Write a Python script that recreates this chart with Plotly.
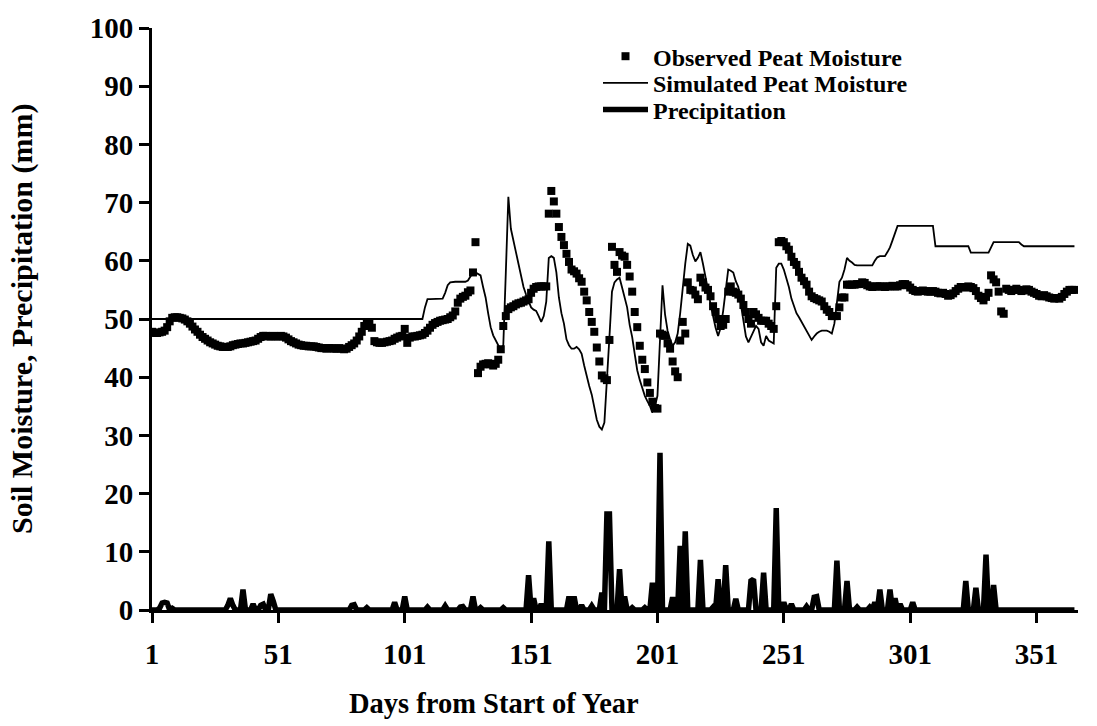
import plotly.graph_objects as go

# Day of year for the daily series
days = list(range(1, 367))

# Observed peat moisture (mm), one value per day
observed = [
    47.8, 47.6, 47.6, 47.7, 47.8, 48.0, 48.6, 49.6, 50.2, 50.3,
    50.3, 50.2, 50.1, 49.9, 49.6, 49.2, 48.7, 48.2, 47.8, 47.3,
    46.9, 46.6, 46.3, 46.0, 45.8, 45.6, 45.4, 45.3, 45.2, 45.2,
    45.2, 45.3, 45.5, 45.6, 45.7, 45.8, 45.8, 45.9, 46.0, 46.1,
    46.2, 46.3, 46.6, 46.9, 47.1, 47.1, 47.0, 47.0, 47.1, 47.0,
    47.0, 47.1, 47.0, 46.8, 46.5, 46.2, 46.0, 45.8, 45.6, 45.5,
    45.4, 45.4, 45.3, 45.3, 45.3, 45.2, 45.1, 45.0, 45.0, 44.9,
    45.0, 45.0, 44.9, 44.9, 45.0, 44.9, 44.8, 44.9, 45.2, 45.5,
    45.8, 46.3, 47.0, 47.8, 48.8, 49.3, 49.2, 48.5, 46.2, 46.0,
    45.9, 45.9, 46.0, 46.1, 46.2, 46.3, 46.6, 46.8, 47.0, 47.1,
    48.3, 45.9, 46.8, 47.0, 47.0, 47.1, 47.2, 47.3, 47.6, 48.0,
    48.5, 49.0, 49.3, 49.5, 49.7, 49.8, 49.9, 50.0, 50.3, 50.6,
    51.3, 52.8, 53.5, 53.8, 54.0, 54.6, 54.9, 58.0, 63.2, 40.7,
    41.8, 42.2, 42.3, 42.4, 42.2, 42.0, 42.3, 43.0, 44.8, 48.8,
    50.5, 51.7, 52.0, 52.2, 52.5, 52.7, 52.8, 53.0, 53.2, 53.4,
    54.5, 55.2, 55.5, 55.6, 55.6, 55.6, 55.6, 68.1, 72.0, 70.2,
    68.1, 65.8, 64.1, 62.7, 61.2, 59.8, 58.5, 58.2, 57.8, 57.0,
    56.4, 54.7, 53.2, 51.2, 49.5, 47.8, 45.1, 42.7, 40.3, 39.8,
    39.5, 46.4, 62.4, 59.3, 58.1, 61.5, 60.9, 60.7, 59.3, 57.3,
    54.7, 51.2, 48.6, 45.4, 43.0, 41.4, 39.1, 37.3, 35.8, 34.7,
    34.6, 47.5, 47.3, 47.1, 45.8, 44.9, 42.7, 41.0, 40.0, 46.3,
    49.5, 47.5, 56.3, 55.0, 54.9, 54.2, 53.4, 57.1, 56.3, 55.4,
    55.0, 53.9, 52.2, 51.2, 50.0, 48.8, 49.0, 50.0, 54.7, 55.6,
    54.7, 54.5, 54.2, 53.5, 52.4, 51.2, 50.0, 49.2, 51.2, 50.8,
    50.2, 49.7, 49.7, 49.7, 49.2, 48.8, 48.3, 52.2, 63.2, 63.4,
    63.2, 62.5, 61.9, 60.7, 59.8, 59.3, 58.1, 57.1, 56.5, 55.9,
    54.7, 53.9, 53.6, 53.4, 53.2, 53.0, 52.2, 51.6, 51.2, 50.5,
    50.5, 50.5, 52.0, 53.7, 53.7, 55.9, 55.9, 55.9, 55.9, 56.0,
    56.0, 56.3, 56.2, 55.8, 55.6, 55.5, 55.6, 55.6, 55.6, 55.6,
    55.5, 55.6, 55.6, 55.7, 55.6, 55.6, 55.8, 56.0, 56.0, 55.8,
    55.4, 55.0, 54.8, 54.7, 54.8, 54.9, 54.8, 54.7, 54.7, 54.8,
    54.7, 54.5, 54.4, 54.5, 54.3, 54.0, 54.1, 54.4, 54.8, 55.2,
    55.5, 55.5, 55.4, 55.6, 55.5, 55.3, 54.8, 54.0, 53.6, 53.2,
    53.8, 54.5, 57.5, 56.8, 56.3, 54.7, 51.3, 50.9, 55.2, 55.0,
    54.8, 55.0, 55.2, 55.0, 54.8, 54.9, 55.1, 55.0, 54.7, 54.5,
    54.3, 54.0, 53.9, 54.1, 53.9, 53.7, 53.6, 53.5, 53.6, 53.5,
    53.8, 54.3, 54.7, 55.0, 55.0, 55.0,
]

# Simulated peat moisture (mm), one value per day
simulated = [
    50.0, 50.0, 50.0, 50.0, 50.0, 50.0, 50.0, 50.0, 50.0, 50.0,
    50.0, 50.0, 50.0, 50.0, 50.0, 50.0, 50.0, 50.0, 50.0, 50.0,
    50.0, 50.0, 50.0, 50.0, 50.0, 50.0, 50.0, 50.0, 50.0, 50.0,
    50.0, 50.0, 50.0, 50.0, 50.0, 50.0, 50.0, 50.0, 50.0, 50.0,
    50.0, 50.0, 50.0, 50.0, 50.0, 50.0, 50.0, 50.0, 50.0, 50.0,
    50.0, 50.0, 50.0, 50.0, 50.0, 50.0, 50.0, 50.0, 50.0, 50.0,
    50.0, 50.0, 50.0, 50.0, 50.0, 50.0, 50.0, 50.0, 50.0, 50.0,
    50.0, 50.0, 50.0, 50.0, 50.0, 50.0, 50.0, 50.0, 50.0, 50.0,
    50.0, 50.0, 50.0, 50.0, 50.0, 50.0, 50.0, 50.0, 50.0, 50.0,
    50.0, 50.0, 50.0, 50.0, 50.0, 50.0, 50.0, 50.0, 50.0, 50.0,
    50.0, 50.0, 50.0, 50.0, 50.0, 50.0, 50.0, 50.0, 52.0, 53.4,
    53.4, 53.4, 53.4, 53.4, 53.4, 53.5, 54.5, 55.8, 56.3, 56.4,
    56.4, 56.4, 56.4, 56.4, 56.4, 56.6, 57.2, 58.0, 58.0, 57.8,
    57.5, 55.5, 53.7, 51.0, 48.6, 47.2, 46.3, 45.5, 44.9, 45.5,
    58.0, 71.0, 65.5, 63.2, 61.5, 59.5, 57.5, 55.5, 54.2, 53.0,
    52.0, 51.6, 51.4, 50.5, 49.5, 50.5, 53.0, 60.5, 60.8, 60.5,
    58.0, 53.7, 51.0, 49.2, 46.5, 45.5, 44.9, 44.9, 45.2, 44.8,
    44.0, 42.0, 40.0, 38.5, 37.0, 34.5, 32.7, 31.5, 31.0, 32.2,
    39.0, 46.9, 54.7, 56.3, 56.8, 57.1, 55.4, 53.5, 52.0, 49.0,
    46.9, 44.0, 41.2, 39.5, 38.0, 36.8, 35.9, 35.1, 33.9, 35.0,
    36.8, 45.8, 55.8, 50.8, 48.0, 46.5, 45.4, 46.0, 47.5, 51.0,
    55.9, 59.5, 62.9, 62.6, 61.0, 59.9, 60.5, 61.5, 59.5, 57.5,
    55.0, 52.5, 50.3, 48.5, 47.1, 48.5, 51.4, 55.0, 58.5, 58.3,
    58.0, 56.5, 55.5, 52.5, 49.5, 47.0, 46.0, 47.0, 48.0, 48.8,
    48.3, 46.0, 45.4, 47.1, 46.3, 46.0, 45.8, 58.8, 59.5, 59.5,
    58.5, 57.0, 55.5, 53.5, 52.2, 51.0, 50.3, 49.5, 48.8, 48.0,
    47.2, 46.4, 47.0, 47.5, 47.8, 48.0, 48.0, 48.0, 47.8, 47.5,
    49.2, 52.5, 56.4, 57.1, 58.5, 60.5, 60.0, 59.7, 59.3, 59.2,
    59.2, 59.2, 59.2, 59.2, 59.2, 59.2, 60.0, 60.6, 60.8, 60.8,
    60.8, 61.5, 62.3, 63.5, 64.8, 66.0, 66.0, 66.0, 66.0, 66.0,
    66.0, 66.0, 66.0, 66.0, 66.0, 66.0, 66.0, 66.0, 66.0, 66.0,
    62.5, 62.5, 62.5, 62.5, 62.5, 62.5, 62.5, 62.5, 62.5, 62.5,
    62.5, 62.5, 62.5, 62.5, 61.4, 61.4, 61.4, 61.4, 61.4, 61.4,
    61.4, 61.4, 62.3, 63.2, 63.2, 63.2, 63.2, 63.2, 63.2, 63.2,
    63.2, 63.2, 63.2, 63.2, 62.8, 62.5, 62.5, 62.5, 62.5, 62.5,
    62.5, 62.5, 62.5, 62.5, 62.5, 62.5, 62.5, 62.5, 62.5, 62.5,
    62.5, 62.5, 62.5, 62.5, 62.5, 62.5,
]

# Rain days and daily precipitation (mm); every other day is dry
rain_days = [4, 5, 6, 7, 9, 31, 32, 33, 37, 41, 44, 45, 48, 49, 80, 81, 86, 97, 101,
             110, 117, 123, 124, 128, 131, 140, 150, 152, 155, 158, 166, 168, 171,
             175, 179, 181, 182, 186, 188, 191, 196, 199, 202, 207, 210, 212, 218,
             223, 225, 228, 232, 238, 239, 243, 248, 251, 254, 260, 263, 264, 272,
             276, 280, 285, 287, 289, 293, 295, 297, 302, 323, 327, 331, 334]
rain_mm = [0.3, 1.2, 1.3, 1.2, 0.3, 0.8, 2.0, 0.8, 3.5, 1.0, 0.8, 1.0, 2.7, 1.5, 0.8, 0.9, 0.4, 1.3, 2.3,
           0.5, 0.7, 0.5, 0.6, 2.3, 0.4, 0.4, 6.0, 2.0, 1.0, 11.8, 2.3, 2.3, 0.8,
           0.7, 3.0, 16.5, 16.5, 7.0, 2.3, 0.4, 0.4, 4.7, 27.0, 2.2, 11.0, 13.5, 8.6,
           0.5, 5.3, 7.7, 1.9, 5.0, 5.3, 6.4, 17.5, 1.3, 1.0, 0.6, 2.2, 2.3, 8.5,
           5.0, 0.5, 0.5, 1.3, 3.5, 3.5, 2.0, 1.0, 1.3, 5.0, 3.8, 9.5, 4.3]

x_ticks = [1, 51, 101, 151, 201, 251, 301, 351]

assert len(observed) == len(days) == len(simulated)
assert len(rain_days) == len(rain_mm)

# Daily precipitation table built from the rain-day list
rain_lookup = dict(zip(rain_days, rain_mm))
precip = [rain_lookup.get(d, 0.0) for d in days]

FONT = "Liberation Serif"

fig = go.Figure()
fig.add_trace(go.Scatter(
    x=days, y=observed, mode="markers", name="Observed Peat Moisture",
    marker=dict(symbol="square", size=8, color="black"),
    legend="legend", showlegend=True,
))
fig.add_trace(go.Scatter(
    x=days, y=simulated, mode="lines", name="Simulated Peat Moisture",
    line=dict(color="black", width=1.8),
    legend="legend2", showlegend=True,
))
fig.add_trace(go.Scatter(
    x=days, y=precip, mode="lines", name="Precipitation",
    line=dict(color="black", width=5.5),
    legend="legend3", showlegend=True,
))

legend_common = dict(
    xanchor="left", yanchor="middle",
    font=dict(family=FONT, size=24, color="black", weight="bold"),
    bgcolor="rgba(0,0,0,0)", borderwidth=0, itemwidth=45,
    visible=True,
)
L, R, T, B = 152, 19, 20, 116
W, H = 1097, 726
pw, ph = W - L - R, H - T - B


def px_x(px):
    return (px - L) / pw


def px_y(py):
    return (H - B - py) / ph


fig.update_layout(
    width=W, height=H,
    margin=dict(l=L, r=R, t=T, b=B),
    paper_bgcolor="white", plot_bgcolor="white",
    font=dict(family=FONT, color="black"),
    showlegend=True,
    legend=dict(x=px_x(598), y=px_y(49), **legend_common),
    legend2=dict(x=px_x(598), y=px_y(76), **legend_common),
    legend3=dict(x=px_x(598), y=px_y(103), **legend_common),
    xaxis=dict(
        range=[1, 367.4], tickmode="array", tickvals=x_ticks,
        ticktext=[str(v) for v in x_ticks],
        showgrid=False, zeroline=False,
        showline=True, linecolor="black", linewidth=3,
        ticks="outside", ticklen=10, tickwidth=2.5, tickcolor="black",
        tickfont=dict(family=FONT, size=29, color="black", weight="bold"),
        ticklabelstandoff=6,
    ),
    yaxis=dict(
        range=[0, 100], dtick=10, tick0=0,
        showgrid=False, zeroline=False,
        showline=True, linecolor="black", linewidth=3,
        ticks="outside", ticklen=10, tickwidth=2.5, tickcolor="black",
        tickfont=dict(family=FONT, size=29, color="black", weight="bold"),
    ),
    annotations=[
        dict(text="Days from Start of Year", xref="paper", yref="paper",
             x=px_x(494), y=px_y(705), xanchor="center", yanchor="middle",
             showarrow=False,
             font=dict(family=FONT, size=28.5, color="black", weight="bold")),
        dict(text="Soil Moisture, Precipitation (mm)", xref="paper", yref="paper",
             x=px_x(22), y=0.5, xanchor="center", yanchor="middle",
             textangle=-90, showarrow=False,
             font=dict(family=FONT, size=30, color="black", weight="bold")),
    ],
)

fig.write_html("out.html")
